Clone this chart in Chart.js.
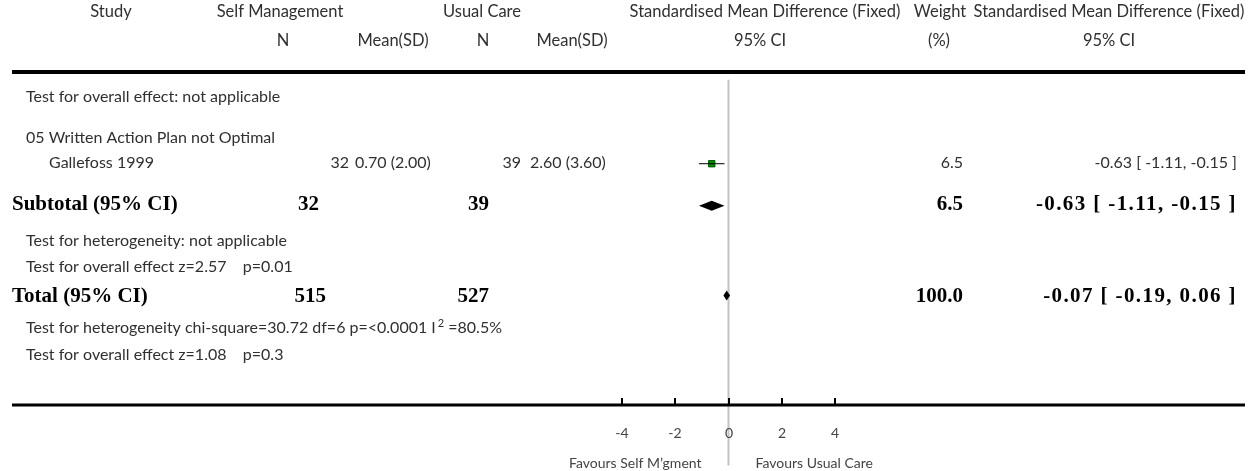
<!DOCTYPE html>
<html>
<head>
<meta charset="utf-8">
<script src="https://cdn.jsdelivr.net/npm/chart.js@4/dist/chart.umd.min.js"></script>
<style>
  html, body { margin: 0; padding: 0; background: #ffffff; }
  #wrap { width: 1251px; height: 471px; }
</style>
</head>
<body>
<div id="wrap"><canvas id="forest" width="1251" height="471"></canvas></div>
<script>
// ---- Study rows ----
const studyNames   = ['Gallefoss 1999'];
const smN          = [32];
const smMeanSD     = ['0.70 (2.00)'];
const ucN          = [39];
const ucMeanSD     = ['2.60 (3.60)'];
const studySMD     = [-0.63];
const studyLow     = [-1.11];
const studyHigh    = [-0.15];
const studyWeight  = [6.5];

// ---- Pooled rows (subtotal, total) ----
const pooledLabels = ['Subtotal (95% CI)', 'Total (95% CI)'];
const pooledN1     = [32, 515];
const pooledN2     = [39, 527];
const pooledSMD    = [-0.63, -0.07];
const pooledLow    = [-1.11, -0.19];
const pooledHigh   = [-0.15, 0.06];
const pooledWeight = [6.5, 100.0];

// ---- Axis ----
const xTicks = [-4, -2, 0, 2, 4];
const favourLeft  = 'Favours Self M\u2019gment';
const favourRight = 'Favours Usual Care';

// ---- Notes ----
const notes = {
  overallNA: 'Test for overall effect: not applicable',
  subgroup: '05 Written Action Plan not Optimal',
  subHet: 'Test for heterogeneity: not applicable',
  subEffect: 'Test for overall effect z=2.57    p=0.01',
  totHetA: 'Test for heterogeneity chi-square=30.72 df=6 p=<0.0001 I',
  totHetSup: '2',
  totHetB: ' =80.5%',
  totEffect: 'Test for overall effect z=1.08    p=0.3'
};

// ---- Page layout (vertical row centres, column anchors) ----
const rowY = {
  head1: 12, head2: 41, overallNA: 97, subgroup: 138, study: [163],
  pooled: [205, 297], subHet: 241, subEffect: 267, totHet: 328, totEffect: 355
};
const SANS = '"Lato", "DejaVu Sans", sans-serif';
const SERIF = '"Liberation Serif", "DejaVu Serif", serif';
const TEXT = '#303030';

function txt(ctx, s, x, y, align, font, color, spacing) {
  ctx.font = font;
  ctx.fillStyle = color || TEXT;
  ctx.textAlign = align;
  ctx.textBaseline = 'middle';
  ctx.letterSpacing = (spacing || 0) + 'px';
  ctx.fillText(s, x, y);
  ctx.letterSpacing = '0px';
}

const forestPlugin = {
  id: 'forestTable',
  beforeDatasetsDraw(chart) {
    const { ctx, scales: { x, y } } = chart;
    const x0 = x.getPixelForValue(0);
    ctx.save();
    // line of no effect
    ctx.strokeStyle = '#c2c2c2';
    ctx.lineWidth = 2;
    ctx.beginPath();
    ctx.moveTo(x0, y.getPixelForValue(76));
    ctx.lineTo(x0, y.getPixelForValue(471));
    ctx.stroke();
    ctx.restore();
  },
  afterDatasetsDraw(chart) {
    const { ctx, scales: { x, y } } = chart;
    ctx.save();
    // pooled diamonds
    ctx.fillStyle = '#000000';
    pooledSMD.forEach((est, i) => {
      const cy = y.getPixelForValue(rowY.pooled[i]);
      const h = 5;
      ctx.beginPath();
      ctx.moveTo(x.getPixelForValue(pooledLow[i]), cy);
      ctx.lineTo(x.getPixelForValue(est), cy - h);
      ctx.lineTo(x.getPixelForValue(pooledHigh[i]), cy);
      ctx.lineTo(x.getPixelForValue(est), cy + h);
      ctx.closePath();
      ctx.fill();
    });
    ctx.restore();
  },
  afterDraw(chart) {
    const { ctx, scales: { x } } = chart;
    const fh = '16.5px ' + SANS;
    const f16 = '16px ' + SANS;
    const f14 = '14px ' + SANS;
    const fb = 'bold 21px ' + SERIF;
    ctx.save();

    // column headings
    txt(ctx, 'Study', 111, rowY.head1, 'center', fh);
    txt(ctx, 'Self Management', 280, rowY.head1, 'center', fh);
    txt(ctx, 'Usual Care', 482, rowY.head1, 'center', fh);
    txt(ctx, 'Standardised Mean Difference (Fixed)', 765, rowY.head1, 'center', fh);
    txt(ctx, 'Weight', 940, rowY.head1, 'center', fh);
    txt(ctx, 'Standardised Mean Difference (Fixed)', 1109, rowY.head1, 'center', fh);
    txt(ctx, 'N', 283, rowY.head2, 'center', fh);
    txt(ctx, 'Mean(SD)', 393, rowY.head2, 'center', fh);
    txt(ctx, 'N', 483, rowY.head2, 'center', fh);
    txt(ctx, 'Mean(SD)', 572, rowY.head2, 'center', fh);
    txt(ctx, '95% CI', 760, rowY.head2, 'center', fh);
    txt(ctx, '(%)', 939, rowY.head2, 'center', fh);
    txt(ctx, '95% CI', 1109, rowY.head2, 'center', fh);

    // heading rule
    ctx.fillStyle = '#000000';
    ctx.fillRect(12, 70, 1233, 4);

    // subgroup text
    txt(ctx, notes.overallNA, 26, rowY.overallNA, 'left', f16);
    txt(ctx, notes.subgroup, 26, rowY.subgroup, 'left', f16);

    // study rows
    studyNames.forEach((name, i) => {
      const ry = rowY.study[i];
      txt(ctx, name, 49, ry, 'left', f16);
      txt(ctx, String(smN[i]), 349, ry, 'right', f16);
      txt(ctx, smMeanSD[i], 355, ry, 'left', f16);
      txt(ctx, String(ucN[i]), 521, ry, 'right', f16);
      txt(ctx, ucMeanSD[i], 530, ry, 'left', f16);
      txt(ctx, studyWeight[i].toFixed(1), 963, ry, 'right', f16);
      txt(ctx, studySMD[i].toFixed(2) + ' [ ' + studyLow[i].toFixed(2) + ', ' + studyHigh[i].toFixed(2) + ' ]',
          1237, ry, 'right', f16);
    });

    // pooled rows
    pooledLabels.forEach((lab, i) => {
      const ry = rowY.pooled[i];
      txt(ctx, lab, 12, ry, 'left', fb, '#000');
      txt(ctx, String(pooledN1[i]), i === 0 ? 319 : 326, ry, 'right', fb, '#000');
      txt(ctx, String(pooledN2[i]), 489, ry, 'right', fb, '#000');
      txt(ctx, pooledWeight[i].toFixed(1), 963, ry, 'right', fb, '#000');
      txt(ctx, pooledSMD[i].toFixed(2) + ' [ ' + pooledLow[i].toFixed(2) + ', ' + pooledHigh[i].toFixed(2) + ' ]',
          1237, ry, 'right', fb, '#000', 1.4);
    });

    txt(ctx, notes.subHet, 26, rowY.subHet, 'left', f16);
    txt(ctx, notes.subEffect, 26, rowY.subEffect, 'left', f16);

    // heterogeneity with superscript
    ctx.font = f16;
    const wA = ctx.measureText(notes.totHetA).width;
    txt(ctx, notes.totHetA, 26, rowY.totHet, 'left', f16);
    txt(ctx, notes.totHetSup, 26 + wA + 2, rowY.totHet - 5, 'left', '11px ' + SANS);
    ctx.font = '11px ' + SANS;
    const wS = ctx.measureText(notes.totHetSup).width;
    txt(ctx, notes.totHetB, 26 + wA + 2 + wS, rowY.totHet, 'left', f16);
    txt(ctx, notes.totEffect, 26, rowY.totEffect, 'left', f16);

    // scale line and ticks
    const axisY = 405;
    ctx.fillStyle = '#000000';
    ctx.fillRect(12, axisY - 1.5, 1233, 3);
    ctx.strokeStyle = '#000000';
    ctx.lineWidth = 2;
    xTicks.forEach(t => {
      const px = Math.round(x.getPixelForValue(t));
      ctx.beginPath();
      ctx.moveTo(px, axisY - 7);
      ctx.lineTo(px, axisY);
      ctx.stroke();
      txt(ctx, String(t), px, 433, 'center', f14, '#444');
    });
    const x0 = x.getPixelForValue(0);
    txt(ctx, favourLeft, x0 - 27, 463, 'right', f14, '#444');
    txt(ctx, favourRight, x0 + 27, 463, 'left', f14, '#444');
    ctx.restore();
  }
};

new Chart(document.getElementById('forest'), {
  type: 'scatter',
  data: {
    datasets: [
      {
        // confidence interval of each study
        type: 'line',
        data: studySMD.flatMap((_, i) => [
          { x: studyLow[i], y: rowY.study[i] - 1 },
          { x: studyHigh[i], y: rowY.study[i] - 1 }
        ]),
        borderColor: '#000000',
        borderWidth: 1,
        pointRadius: 0,
        fill: false
      },
      {
        // point estimate of each study
        data: studySMD.map((v, i) => ({ x: v, y: rowY.study[i] - 1 })),
        pointStyle: 'rect',
        pointRadius: 4.5,
        backgroundColor: '#008a00',
        borderColor: '#005a00',
        borderWidth: 1
      }
    ]
  },
  options: {
    responsive: false,
    animation: false,
    layout: { padding: { left: 622, right: 416, top: 0, bottom: 0 } },
    scales: {
      x: { type: 'linear', min: -4, max: 4, display: false },
      y: { type: 'linear', min: 0, max: 471, reverse: true, display: false }
    },
    plugins: { legend: { display: false }, tooltip: { enabled: false } }
  },
  plugins: [forestPlugin]
});
</script>
</body>
</html>
